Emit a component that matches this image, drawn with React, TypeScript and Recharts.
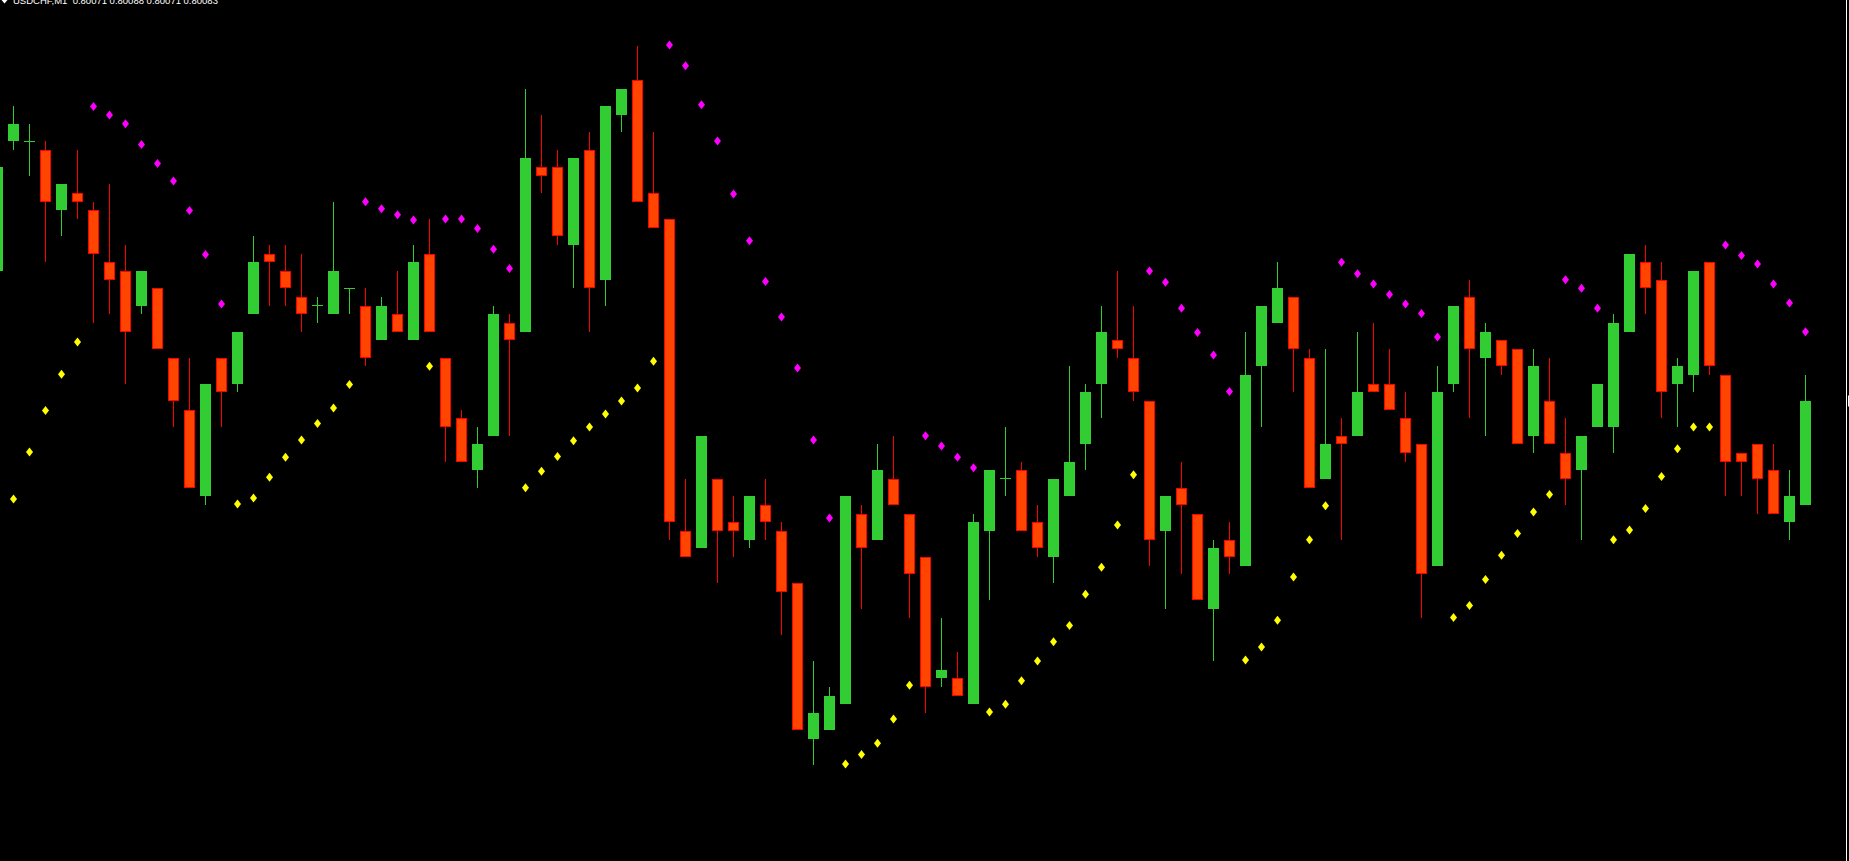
import { Bar, ComposedChart, ReferenceLine, Scatter, XAxis, YAxis } from 'recharts';

// USDCHF M1, one candle per minute, first one is cut by the left edge
const symbol = 'USDCHF,M1';
const lastQuote = ['0.80071', '0.80088', '0.80071', '0.80083'];

const opens = [
    0.80098, 0.80113, 0.80113, 0.80112, 0.80105, 0.80107, 0.80105, 0.80099, 0.80098, 0.80094,
    0.80096, 0.80088, 0.80082, 0.80072, 0.80088, 0.80085, 0.80093, 0.801, 0.80098, 0.80095,
    0.80094, 0.80093, 0.80096, 0.80094, 0.8009, 0.80093, 0.8009, 0.801, 0.80088, 0.80081,
    0.80075, 0.80079, 0.80092, 0.80091, 0.8011, 0.8011, 0.80101, 0.80112, 0.80097, 0.80116,
    0.8012, 0.80107, 0.80104, 0.80068, 0.80066, 0.80074, 0.80069, 0.80067, 0.80071, 0.80068,
    0.80062, 0.80044, 0.80045, 0.80048, 0.8007, 0.80067, 0.80074, 0.8007, 0.80065, 0.80051,
    0.80051, 0.80048, 0.80068, 0.80074, 0.80075, 0.80069, 0.80065, 0.80072, 0.80078, 0.80085,
    0.8009, 0.80088, 0.80083, 0.80068, 0.80073, 0.8007, 0.80059, 0.80067, 0.80064, 0.80087,
    0.80092, 0.80095, 0.80088, 0.80074, 0.80079, 0.80079, 0.80085, 0.80085, 0.80081, 0.80078,
    0.80064, 0.80085, 0.80095, 0.80088, 0.8009, 0.80089, 0.80079, 0.80083, 0.80077, 0.80075,
    0.8008, 0.8008, 0.80091, 0.80099, 0.80097, 0.80085, 0.80086, 0.80099, 0.80086, 0.80077,
    0.80078, 0.80075, 0.80069, 0.80071,
];

const highs = [
    0.80111, 0.80117, 0.80115, 0.80113, 0.80108, 0.80112, 0.80106, 0.80108, 0.80101, 0.80098,
    0.80096, 0.80088, 0.80088, 0.80085, 0.80088, 0.80091, 0.80102, 0.80101, 0.80101, 0.801,
    0.80095, 0.80106, 0.80096, 0.80096, 0.80095, 0.80098, 0.80101, 0.80104, 0.80088, 0.80082,
    0.8008, 0.80094, 0.80093, 0.80119, 0.80116, 0.80112, 0.80111, 0.80114, 0.80117, 0.80119,
    0.80124, 0.80114, 0.80104, 0.80074, 0.80079, 0.80074, 0.80072, 0.80072, 0.80074, 0.80069,
    0.80062, 0.80053, 0.8005, 0.80072, 0.80071, 0.80078, 0.80079, 0.8007, 0.80065, 0.80058,
    0.80054, 0.8007, 0.80075, 0.8008, 0.80076, 0.80071, 0.80074, 0.80087, 0.80085, 0.80094,
    0.80098, 0.80094, 0.80083, 0.80072, 0.80076, 0.8007, 0.80067, 0.80069, 0.80091, 0.80094,
    0.80099, 0.80095, 0.80089, 0.80089, 0.80081, 0.80091, 0.80092, 0.80089, 0.80084, 0.80078,
    0.80087, 0.80094, 0.80097, 0.80092, 0.8009, 0.80089, 0.80089, 0.80088, 0.80081, 0.80079,
    0.80085, 0.80093, 0.801, 0.80101, 0.80099, 0.80088, 0.80098, 0.80099, 0.80086, 0.80077,
    0.80078, 0.80078, 0.80075, 0.80086,
];

const lows = [
    0.80097, 0.80112, 0.80109, 0.80099, 0.80102, 0.80104, 0.80092, 0.80093, 0.80085, 0.80093,
    0.80089, 0.8008, 0.80073, 0.80071, 0.8008, 0.80084, 0.80093, 0.80094, 0.80094, 0.80091,
    0.80092, 0.80093, 0.80093, 0.80087, 0.8009, 0.80091, 0.8009, 0.80091, 0.80076, 0.80076,
    0.80073, 0.80079, 0.80079, 0.80091, 0.80107, 0.80101, 0.80096, 0.80091, 0.80094, 0.80114,
    0.80106, 0.80103, 0.80067, 0.80065, 0.80066, 0.80062, 0.80065, 0.80066, 0.80067, 0.80056,
    0.80045, 0.80041, 0.80045, 0.80048, 0.80059, 0.80067, 0.80071, 0.80058, 0.80047, 0.8005,
    0.80049, 0.80048, 0.8006, 0.80072, 0.80068, 0.80065, 0.80062, 0.80072, 0.80075, 0.80081,
    0.80088, 0.80083, 0.80064, 0.80059, 0.80063, 0.8006, 0.80053, 0.80063, 0.80064, 0.8008,
    0.80092, 0.80084, 0.80073, 0.80074, 0.80067, 0.80079, 0.80084, 0.80082, 0.80076, 0.80058,
    0.80064, 0.80084, 0.80081, 0.80079, 0.80086, 0.80078, 0.80077, 0.80078, 0.80071, 0.80067,
    0.8008, 0.80077, 0.80091, 0.80093, 0.80081, 0.8008, 0.80084, 0.80086, 0.80072, 0.80072,
    0.8007, 0.8007, 0.80067, 0.80071,
];

const closes = [
    0.8011, 0.80115, 0.80113, 0.80106, 0.80108, 0.80106, 0.801, 0.80097, 0.80091, 0.80098,
    0.80089, 0.80083, 0.80073, 0.80085, 0.80084, 0.80091, 0.80099, 0.80099, 0.80096, 0.80093,
    0.80094, 0.80098, 0.80096, 0.80088, 0.80094, 0.80091, 0.80099, 0.80091, 0.8008, 0.80076,
    0.80078, 0.80093, 0.8009, 0.80111, 0.80109, 0.80102, 0.80111, 0.80096, 0.80117, 0.80119,
    0.80106, 0.80103, 0.80069, 0.80065, 0.80079, 0.80068, 0.80068, 0.80072, 0.80069, 0.80061,
    0.80045, 0.80047, 0.80049, 0.80072, 0.80066, 0.80075, 0.80071, 0.80063, 0.8005, 0.80052,
    0.80049, 0.80069, 0.80075, 0.80074, 0.80068, 0.80066, 0.80074, 0.80076, 0.80084, 0.80091,
    0.80089, 0.80084, 0.80067, 0.80072, 0.80071, 0.8006, 0.80066, 0.80065, 0.80086, 0.80094,
    0.80096, 0.80089, 0.80073, 0.80078, 0.80078, 0.80084, 0.80084, 0.80082, 0.80077, 0.80063,
    0.80084, 0.80094, 0.80089, 0.80091, 0.80087, 0.80078, 0.80087, 0.80078, 0.80074, 0.80079,
    0.80085, 0.80092, 0.801, 0.80096, 0.80084, 0.80087, 0.80098, 0.80087, 0.80076, 0.80076,
    0.80074, 0.8007, 0.80072, 0.80083,
];

// Parabolic SAR, dots below price = rising, above = falling
const sar = [
    null, 0.800717, 0.800771, 0.800819, 0.800861, 0.800898, 0.80117, 0.80116, 0.80115, 0.801126,
    0.801104, 0.801084, 0.80105, 0.800999, 0.800942, 0.800711, 0.800718, 0.800742, 0.800765, 0.800785,
    0.800804, 0.800822, 0.800849, 0.80106, 0.801052, 0.801045, 0.801039, 0.80087, 0.80104, 0.80104,
    0.801029, 0.801005, 0.800983, 0.80073, 0.800749, 0.800766, 0.800784, 0.8008, 0.800815, 0.80083,
    0.800845, 0.800876, 0.801241, 0.801217, 0.801172, 0.80113, 0.801069, 0.801015, 0.800968, 0.800927,
    0.800868, 0.800785, 0.800695, 0.800411, 0.800422, 0.800435, 0.800463, 0.800502, 0.80079, 0.800778,
    0.800765, 0.800753, 0.800471, 0.80048, 0.800507, 0.80053, 0.800552, 0.800571, 0.800607, 0.800638,
    0.800687, 0.800745, 0.80098, 0.800967, 0.800937, 0.800909, 0.800883, 0.800841, 0.800531, 0.800546,
    0.800577, 0.800627, 0.80067, 0.800709, 0.80099, 0.800977, 0.800965, 0.800953, 0.800942, 0.800931,
    0.800904, 0.80058, 0.800594, 0.800624, 0.800652, 0.800677, 0.800702, 0.800722, 0.80097, 0.80096,
    0.800937, 0.80067, 0.800681, 0.800706, 0.800743, 0.800775, 0.8008, 0.8008, 0.80101, 0.800998,
    0.800988, 0.800965, 0.800943, 0.80091,
];

const priceTicks = [
    0.8003, 0.80035, 0.8004, 0.80045, 0.8005, 0.80055, 0.8006, 0.80065, 0.8007, 0.80075,
    0.8008, 0.80085, 0.8009, 0.80095, 0.801, 0.80105, 0.8011, 0.80115, 0.8012, 0.80125,
];

const bullColor = '#32CD32';
const bearFill = '#FF4500';
const bearLine = '#FF0000';

const data = opens.map((open, i) => ({
    bar: i,
    open,
    high: highs[i],
    low: lows[i],
    close: closes[i],
    sar: sar[i],
}));

const Candle = (props: any) => {
    const { x, y, width, height, payload } = props;
    if (!payload || !isFinite(y) || payload.high <= payload.low) return null;
    const { open, close, high, low } = payload;
    const top0 = Math.min(y, y + height);
    const k = Math.abs(height) / (high - low);
    const py = (p: number) => top0 + (high - p) * k;
    const cx = Math.floor(x + width / 2) + 0.5;
    const up = close >= open;
    const top = Math.round(py(Math.max(open, close)));
    const bot = Math.round(py(Math.min(open, close)));
    const wick = up ? bullColor : bearLine;
    return (
        <g>
            <line x1={cx} x2={cx} y1={Math.round(py(high))} y2={Math.round(py(low))} stroke={wick} />
            {bot - top < 2 ? (
                <line x1={cx - 5.5} x2={cx + 5.5} y1={Math.floor(py(open)) + 0.5} y2={Math.floor(py(open)) + 0.5} stroke={wick} />
            ) : (
                <rect
                    x={cx - 5}
                    y={top + 0.5}
                    width={10}
                    height={bot - top - 1}
                    fill={up ? bullColor : bearFill}
                    stroke={up ? bullColor : bearLine}
                />
            )}
        </g>
    );
};

const SarDot = (props: any) => {
    const { cx, cy, payload } = props;
    if (!payload || payload.sar == null || !isFinite(cx) || !isFinite(cy)) return null;
    const color = payload.sar > payload.high ? '#FF00FF' : '#FFFF00';
    return <polygon points={`${cx},${cy - 4.5} ${cx + 3.5},${cy} ${cx},${cy + 4.5} ${cx - 3.5},${cy}`} fill={color} />;
};

// current price box on the price scale, only its left edge is inside the picture
const PriceTag = (props: any) => {
    const vb = props.viewBox;
    if (!vb) return null;
    return <rect x={vb.x + vb.width + 1.5} y={vb.y - 5.5} width={44} height={11} fill="#fff" />;
};

export default function App() {
    return (
        <div style={{ position: 'relative', width: 1849, height: 861, overflow: 'hidden', background: '#000' }}>
            <style>{'body{margin:0;background:#000}'}</style>
            <div style={{ position: 'absolute', left: -11, top: 0 }}>
                <ComposedChart
                    width={1918}
                    height={861}
                    data={data}
                    margin={{ top: 0, right: 0.5, bottom: 0, left: 0.5 }}
                    barCategoryGap={2}
                >
                    <XAxis dataKey="bar" type="category" hide padding={{ left: 0, right: 33 }} />
                    <YAxis
                        orientation="right"
                        width={60}
                        domain={[0.8002991, 0.8012928]}
                        allowDataOverflow
                        ticks={priceTicks}
                        interval={0}
                        tick={false}
                        tickSize={4}
                        axisLine={{ stroke: '#fff' }}
                        tickLine={{ stroke: '#fff' }}
                    />
                    <Bar dataKey={(d: any) => [d.low, d.high]} shape={(p: any) => <Candle {...p} />} isAnimationActive={false} />
                    <Scatter dataKey="sar" shape={(p: any) => <SarDot {...p} />} isAnimationActive={false} />
                    <ReferenceLine
                        y={closes[closes.length - 1]}
                        stroke="none"
                        ifOverflow="visible"
                        label={(p: any) => <PriceTag {...p} />}
                    />
                </ComposedChart>
            </div>
            <svg width={300} height={12} style={{ position: 'absolute', left: 0, top: 0 }}>
                <polygon points="1.5,0 7.5,0 4.5,3.5" fill="#fff" />
                <text x={13} y={4} fill="#fff" fontSize={9.5} fontFamily="Liberation Sans" style={{ whiteSpace: 'pre' }}>
                    {`${symbol}  ${lastQuote.join(' ')}`}
                </text>
            </svg>
        </div>
    );
}
